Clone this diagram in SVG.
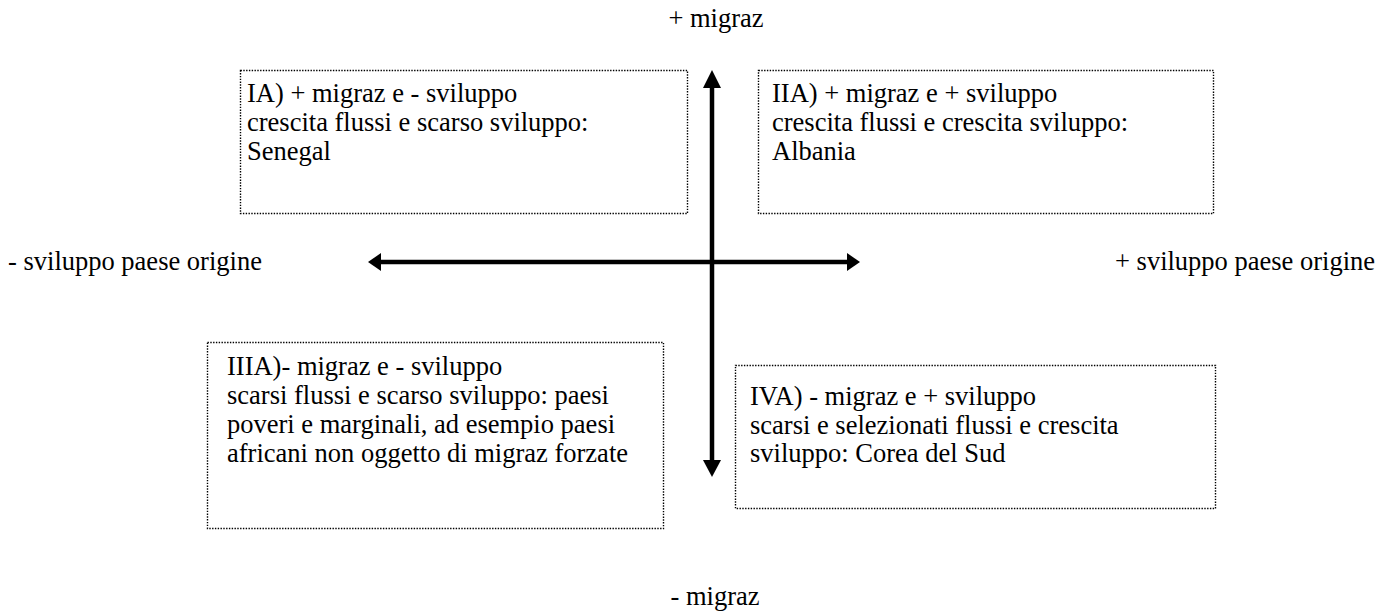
<svg xmlns="http://www.w3.org/2000/svg" width="1378" height="612" viewBox="0 0 1378 612">
<style>
  .box { fill: #ffffff; stroke: #000000; stroke-width: 1.4; stroke-dasharray: 1.4 1.4; }
  .t { font-family: 'Liberation Serif', 'DejaVu Serif', serif; font-size: 26.5px; fill: #000000; }
  .axis { stroke: #000000; stroke-width: 4.5; fill: none; }
  .head { fill: #000000; }
</style>
<rect width="1378" height="612" fill="#ffffff"/>

<g id="node-IA">
  <rect class="box" x="240.5" y="70.5" width="447" height="143"/>
  <text class="t" x="247" y="102">IA) + migraz e - sviluppo</text>
  <text class="t" x="247" y="131">crescita flussi e scarso sviluppo:</text>
  <text class="t" x="247" y="160">Senegal</text>
</g>

<g id="node-IIA">
  <rect class="box" x="758.5" y="70.5" width="455" height="143"/>
  <text class="t" x="772" y="102">IIA) + migraz e + sviluppo</text>
  <text class="t" x="772" y="131">crescita flussi e crescita sviluppo:</text>
  <text class="t" x="772" y="160">Albania</text>
</g>

<g id="node-IIIA">
  <rect class="box" x="207.5" y="342.5" width="456" height="186"/>
  <text class="t" x="227" y="375">IIIA)- migraz e - sviluppo</text>
  <text class="t" x="227" y="404">scarsi flussi e scarso sviluppo: paesi</text>
  <text class="t" x="227" y="433">poveri e marginali, ad esempio paesi</text>
  <text class="t" x="227" y="462">africani non oggetto di migraz forzate</text>
</g>

<g id="node-IVA">
  <rect class="box" x="735.5" y="365.5" width="480" height="143"/>
  <text class="t" x="750" y="405">IVA) - migraz e + sviluppo</text>
  <text class="t" x="750" y="434">scarsi e selezionati flussi e crescita</text>
  <text class="t" x="750" y="462">sviluppo: Corea del Sud</text>
</g>

<g id="labels">
  <text class="t" x="716" y="27" text-anchor="middle">+ migraz</text>
  <text class="t" x="715" y="605" text-anchor="middle">- migraz</text>
  <text class="t" x="8" y="270">- sviluppo paese origine</text>
  <text class="t" x="1115" y="270">+ sviluppo paese origine</text>
</g>

<g id="connectors">
  <line class="axis" x1="380" y1="262" x2="848" y2="262"/>
  <polygon class="head" points="368,262 381,253 381,271"/>
  <polygon class="head" points="860,262 847,253 847,271"/>
  <line class="axis" x1="712" y1="86" x2="712" y2="462"/>
  <polygon class="head" points="712,70 703,88 721,88"/>
  <polygon class="head" points="712,477 703,460 721,460"/>
</g>
</svg>
